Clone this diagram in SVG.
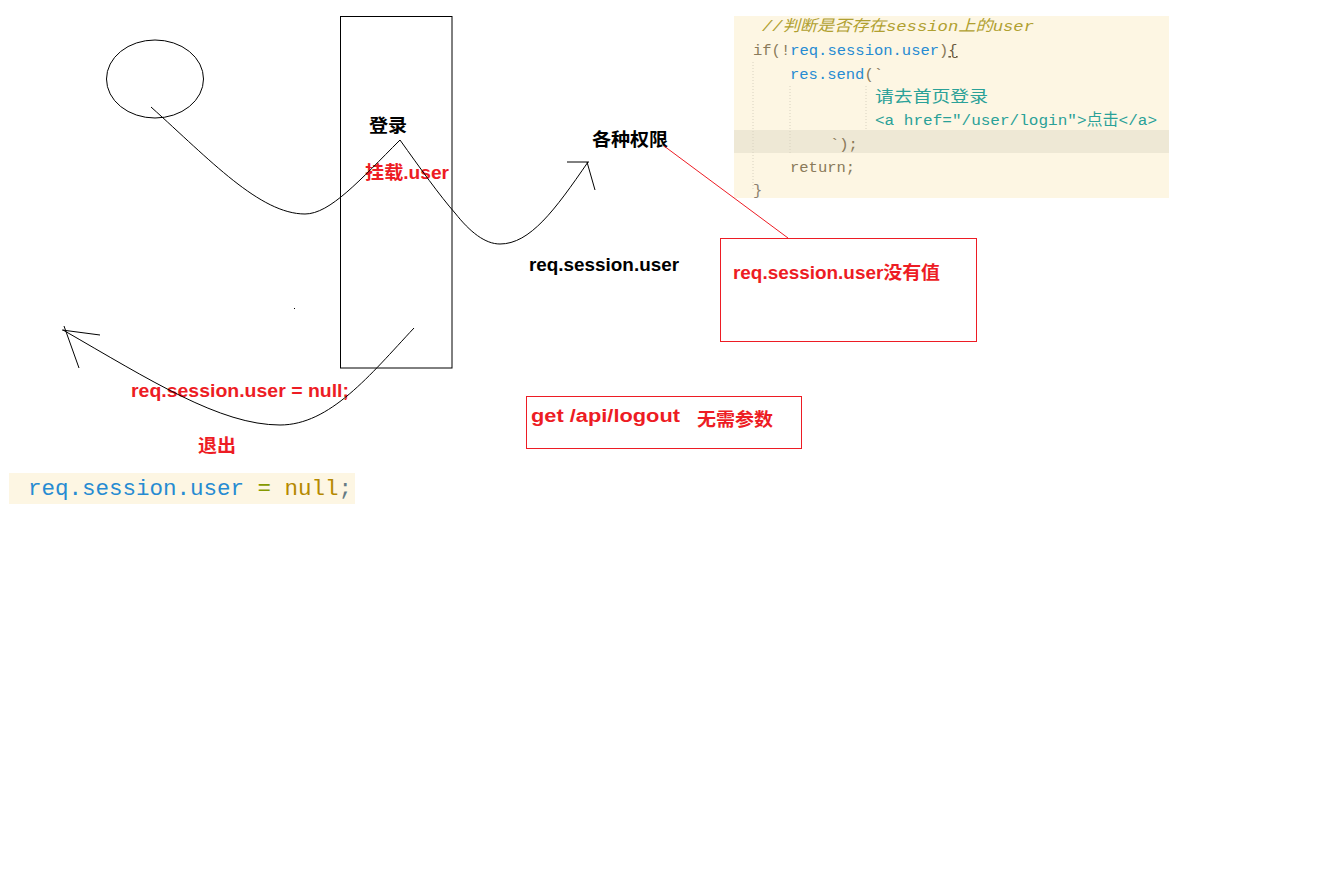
<svg xmlns="http://www.w3.org/2000/svg" width="1334" height="880" viewBox="0 0 1334 880">
<style>
.ln{fill:none;stroke:#000;stroke-width:1}
.rl{fill:none;stroke:#ed1c24;stroke-width:1}
.bk{font-family:"Liberation Sans","Noto Sans CJK SC",sans-serif;font-weight:bold;font-size:18px;fill:#000}
.rd{font-family:"Liberation Sans","Noto Sans CJK SC",sans-serif;font-weight:bold;font-size:18px;fill:#ed1c24}
.code{font-family:"Liberation Mono","Noto Sans CJK SC",monospace;font-size:15.5px}
.cm{fill:#b0a030;font-style:italic}
.kw{fill:#8a7a5a}
.bl{fill:#268bd2}
.cy{fill:#2aa198}
.gy{fill:#8a8070}
.guide{stroke:#d8d2c0;stroke-width:1;stroke-dasharray:1 2}
</style>
<rect width="1334" height="880" fill="#fff"/>
<g id="code-block">
<rect x="734" y="16" width="435" height="182" fill="#fdf6e3"/>
<rect x="734" y="130" width="435" height="23" fill="#eee8d5"/>
<line class="guide" x1="753" y1="62" x2="753" y2="190"/>
<line class="guide" x1="790" y1="86" x2="790" y2="155"/>
<line class="guide" x1="866" y1="86" x2="866" y2="130"/>
<text class="code cm" x="762" y="31" textLength="272" lengthAdjust="spacingAndGlyphs">//判断是否存在session上的user</text>
<text class="code" x="753" y="55"><tspan class="kw">if(!</tspan><tspan class="bl">req.session.user</tspan><tspan class="kw">)</tspan><tspan fill="#6a5a40" text-decoration="underline">{</tspan></text>
<text class="code" x="790" y="79"><tspan class="bl">res.send</tspan><tspan class="kw">(`</tspan></text>
<text class="code cy" x="875" y="102" textLength="113" lengthAdjust="spacingAndGlyphs">请去首页登录</text>
<text class="code cy" x="875" y="125" textLength="282" lengthAdjust="spacingAndGlyphs">&lt;a href="/user/login"&gt;点击&lt;/a&gt;</text>
<text class="code kw" x="830" y="149">`);</text>
<text class="code kw" x="790" y="172">return;</text>
<text class="code gy" x="753" y="195">}</text>
</g>
<g id="code-null">
<rect x="9" y="473" width="346" height="31" fill="#fdf6e3"/>
<text x="28" y="495" font-family="'Liberation Mono',monospace" font-size="22.5px"><tspan fill="#268bd2">req.session.user</tspan><tspan fill="#859900"> = </tspan><tspan fill="#b58900">null</tspan><tspan fill="#657b83">;</tspan></text>
</g>
<g id="ellipse-node">
<ellipse class="ln" cx="155" cy="79" rx="48.5" ry="39"/>
</g>
<g id="login-box">
<rect class="ln" x="340.5" y="16.5" width="111.5" height="351.5"/>
<text class="bk" x="369" y="132" textLength="38" lengthAdjust="spacingAndGlyphs">登录</text>
<text class="rd" x="365" y="179" textLength="84" lengthAdjust="spacingAndGlyphs">挂载.user</text>
</g>
<g id="permissions">
<text class="bk" x="592" y="146" textLength="76" lengthAdjust="spacingAndGlyphs">各种权限</text>
</g>
<g id="session-label">
<text class="bk" x="529" y="271" textLength="150" lengthAdjust="spacingAndGlyphs">req.session.user</text>
</g>
<g id="no-value-box">
<rect class="rl" x="720.5" y="238.5" width="256" height="103"/>
<text class="rd" x="733" y="279" textLength="207" lengthAdjust="spacingAndGlyphs">req.session.user没有值</text>
</g>
<g id="logout-box">
<rect class="rl" x="526.5" y="396.5" width="275" height="52"/>
<text class="rd" x="531" y="422" textLength="149" lengthAdjust="spacingAndGlyphs">get /api/logout</text>
<text class="rd" x="697" y="426" textLength="76" lengthAdjust="spacingAndGlyphs">无需参数</text>
</g>
<g id="logout-labels">
<text class="rd" x="131" y="397" textLength="218" lengthAdjust="spacingAndGlyphs">req.session.user = null;</text>
<text class="rd" x="198" y="452" textLength="38" lengthAdjust="spacingAndGlyphs">退出</text>
</g>
<g id="connectors">
<path class="ln" d="M151,107 C210,160 260,214 305,214 C330,214 360,180 400,140 C420,168 440,196 455,213 C470,232 485,244 500,244 C530,244 555,210 588,162"/>
<line class="ln" x1="567" y1="162" x2="589" y2="162"/>
<line class="ln" x1="587" y1="162" x2="595" y2="190"/>
<path class="ln" d="M414,328 C370,375 330,425 280,425 C220,425 150,380 63,330"/>
<line class="ln" x1="62" y1="330" x2="100" y2="335"/>
<line class="ln" x1="64" y1="326" x2="79" y2="368"/>
<line class="rl" x1="664" y1="146" x2="788" y2="238"/>
<rect x="294" y="308" width="1" height="1" fill="#000"/>
</g>
</svg>
